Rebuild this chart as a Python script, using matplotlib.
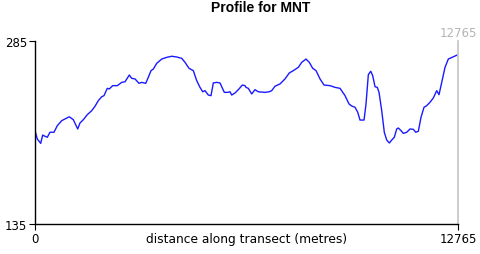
import matplotlib
matplotlib.use("Agg")
import matplotlib.pyplot as plt

# elevation profile (distance in metres, elevation)
distance = [0, 69, 172, 232, 302, 371, 453, 573, 673, 806, 905, 1035, 1156, 1289,
            1358, 1458, 1578, 1711, 1811, 1910, 2013, 2082, 2182, 2242, 2345, 2484,
            2617, 2716, 2846, 2918, 3018, 3139, 3220, 3341, 3419, 3501, 3570, 3673,
            3824, 3975, 4126, 4276, 4427, 4527, 4648, 4777, 4880, 4979, 5061, 5130,
            5230, 5311, 5381, 5483, 5583, 5713, 5815, 5885, 5936, 6036, 6156, 6256,
            6337, 6367, 6437, 6539, 6639, 6738, 6940, 7070, 7143, 7242, 7393, 7544,
            7674, 7795, 7946, 8049, 8178, 8278, 8381, 8481, 8601, 8722, 8903, 9054,
            9205, 9356, 9476, 9558, 9657, 9739, 9808, 9929, 9989, 10059, 10131,
            10191, 10261, 10330, 10382, 10463, 10541, 10614, 10693, 10765, 10843,
            10916, 10964, 11046, 11115, 11218, 11317, 11417, 11490, 11568, 11649,
            11740, 11821, 11921, 12020, 12123, 12192, 12274, 12373, 12473, 12624,
            12765]
elevation = [211.5, 204.7, 201.1, 207.9, 206.9, 206.1, 210.2, 210.2, 215.6, 219.7,
             221.1, 222.9, 220.5, 212.9, 217.8, 220.5, 224.6, 227.9, 231.5, 236.1,
             239.3, 240.2, 246.2, 245.7, 248.4, 248.4, 251.1, 251.6, 257.1, 254.4,
             253.9, 250.3, 251.1, 250.3, 255.2, 260.7, 262.0, 266.7, 270.2, 271.6,
             272.5, 271.9, 270.8, 267.5, 262.6, 260.7, 252.5, 247.0, 243.4, 244.3,
             240.7, 240.2, 250.6, 251.1, 250.6, 242.9, 242.9, 243.4, 240.7, 242.4,
             245.7, 248.9, 248.4, 247.0, 246.2, 241.6, 245.1, 243.4, 242.9, 243.4,
             244.3, 247.9, 249.8, 253.9, 258.8, 260.7, 263.4, 267.5, 270.2, 267.5,
             262.6, 260.7, 253.9, 248.9, 248.4, 247.0, 246.2, 240.2, 233.4, 231.7,
             230.7, 226.6, 220.2, 220.2, 233.4, 257.4, 260.2, 256.6, 247.5, 247.0,
             242.9, 227.9, 210.2, 203.8, 201.4, 203.8, 206.1, 212.9, 213.7, 211.5,
             209.3, 210.2, 212.9, 212.6, 210.2, 211.0, 222.5, 230.7, 232.0, 234.8,
             238.3, 244.3, 241.0, 251.1, 263.4, 270.2, 272.1, 273.8]

y_ticks = [135, 285]
x_ticks = [0, 12765]
title = "Profile for MNT"
x_label = "distance along transect (metres)"

plt.rcParams['font.family'] = ['DejaVu Sans']

fig = plt.figure(figsize=(4.8, 2.55), dpi=100)
ax = fig.add_axes([35 / 480, 1 - 225 / 255, 423 / 480, 183 / 255])

ax.plot(distance, elevation, color='#1a1aff', lw=1.0)
ax.axvline(x_ticks[-1], color='#c4c4c4', lw=1.2, clip_on=False)

ax.set_xlim(x_ticks[0], x_ticks[-1])
ax.set_ylim(y_ticks[0], y_ticks[-1])
ax.set_xticks(x_ticks)
ax.set_yticks(y_ticks)
ax.set_xticklabels([str(v) for v in x_ticks])
ax.set_yticklabels([str(v) for v in y_ticks])
ax.tick_params(direction='out', length=4, width=0.8, labelsize=8.5, pad=1.5, colors='black')

for side in ('top', 'right'):
    ax.spines[side].set_visible(False)
for side in ('left', 'bottom'):
    ax.spines[side].set_linewidth(1.0)

ax.text(x_ticks[-1], y_ticks[-1] + 1.5, str(x_ticks[-1]), color='#b4b4b4',
        ha='center', va='bottom', fontsize=8.5)

ax.set_xlabel(x_label, fontsize=8.8, labelpad=-9)
fig.text(261 / 480, 1 - 8 / 255, title, ha='center', va='center',
         fontsize=10, fontweight='bold', family='Liberation Sans')

fig.savefig('out.png', dpi=100)
